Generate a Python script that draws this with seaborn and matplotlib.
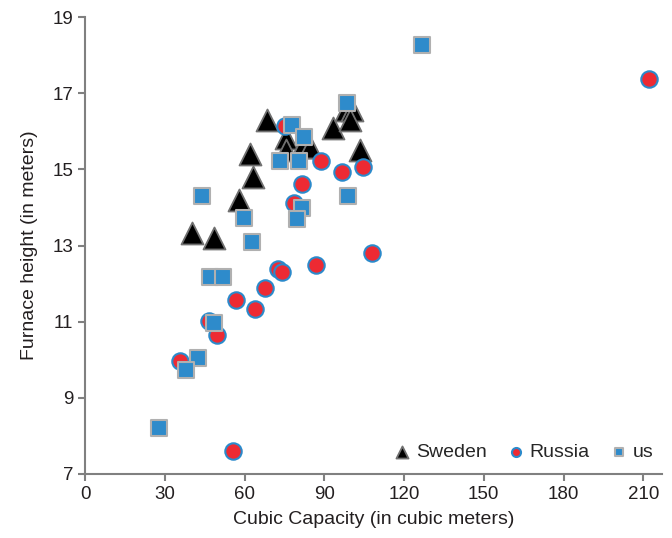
import pandas as pd
import seaborn as sns
import matplotlib.pyplot as plt

# Values
sweden_x = [40.3, 48.6, 58.0, 62.1, 63.2, 68.5, 75.6, 75.6, 81.7, 84.7, 93.3, 98.0, 100.5, 99.5, 103.5]
sweden_y = [13.33, 13.2, 14.2, 15.4, 14.8, 16.3, 15.82, 15.5, 15.59, 15.59, 16.1, 16.55, 16.55, 16.3, 15.5]

russia_x = [75.3, 88.8, 96.7, 104.6, 81.7, 78.7, 108.0, 72.6, 74.0, 86.9, 56.8, 67.7, 64.0, 46.7, 49.7, 35.8, 55.7, 212.3]
russia_y = [16.14, 15.22, 14.93, 15.06, 14.61, 14.12, 12.8, 12.38, 12.3, 12.49, 11.57, 11.88, 11.33, 11.02, 10.65, 9.97, 7.6, 17.37]

us_x = [78.0, 82.4, 73.4, 80.5, 98.6, 99.0, 81.7, 79.8, 44.0, 59.8, 62.9, 47.0, 52.0, 48.6, 42.5, 38.0, 27.9, 126.8]
us_y = [16.16, 15.85, 15.22, 15.22, 16.74, 14.3, 14.0, 13.7, 14.3, 13.72, 13.09, 12.18, 12.18, 10.96, 10.04, 9.73, 8.21, 18.26]

x_ticks = [0, 30, 60, 90, 120, 150, 180, 210]
y_ticks = [7, 9, 11, 13, 15, 17, 19]

sns.set_style("white")
plt.rcParams["font.family"] = ["Liberation Sans", "DejaVu Sans"]

gray = "#808080"
txt = "#231f20"

fig = plt.figure(figsize=(6.72, 5.38), dpi=100)
ax = fig.add_axes([0.1265, 0.119, 0.985 - 0.1265, 0.968 - 0.119])

groups = [
    ("Sweden", sweden_x, sweden_y, "^", 250, "black", "#707070", 1.3),
    ("Russia", russia_x, russia_y, "o", 140, "#ED2A33", "#2B8ACB", 1.5),
    ("us", us_x, us_y, "s", 125, "#2E8BCB", "#B0B0B0", 1.5),
]
for name, xs, ys, mk, size, fc, ec, lw in groups:
    df = pd.DataFrame({"x": xs, "y": ys})
    sns.scatterplot(data=df, x="x", y="y", marker=mk, s=size, color=fc,
                    edgecolor=ec, linewidth=lw, label=name, ax=ax, zorder=3)

ax.set_xlim(0, 217)
ax.set_ylim(7, 19)
ax.set_xticks(x_ticks)
ax.set_yticks(y_ticks)
ax.set_xlabel("Cubic Capacity (in cubic meters)", fontsize=14, color=txt, labelpad=6)
ax.set_ylabel("Furnace height (in meters)", fontsize=14, color=txt, labelpad=10)

sns.despine(ax=ax)
for side in ["left", "bottom"]:
    ax.spines[side].set_color(gray)
    ax.spines[side].set_linewidth(1.5)
ax.tick_params(axis="both", direction="out", length=5, width=1.5, color=gray,
               labelsize=13.5, labelcolor=txt, bottom=True, left=True)

leg = ax.legend(loc="lower right", ncol=3, frameon=False, fontsize=14,
                markerscale=0.55, handletextpad=0.1, columnspacing=0.9,
                handlelength=1.2, bbox_to_anchor=(1.015, -0.01))

fig.savefig("out.png", dpi=100)
